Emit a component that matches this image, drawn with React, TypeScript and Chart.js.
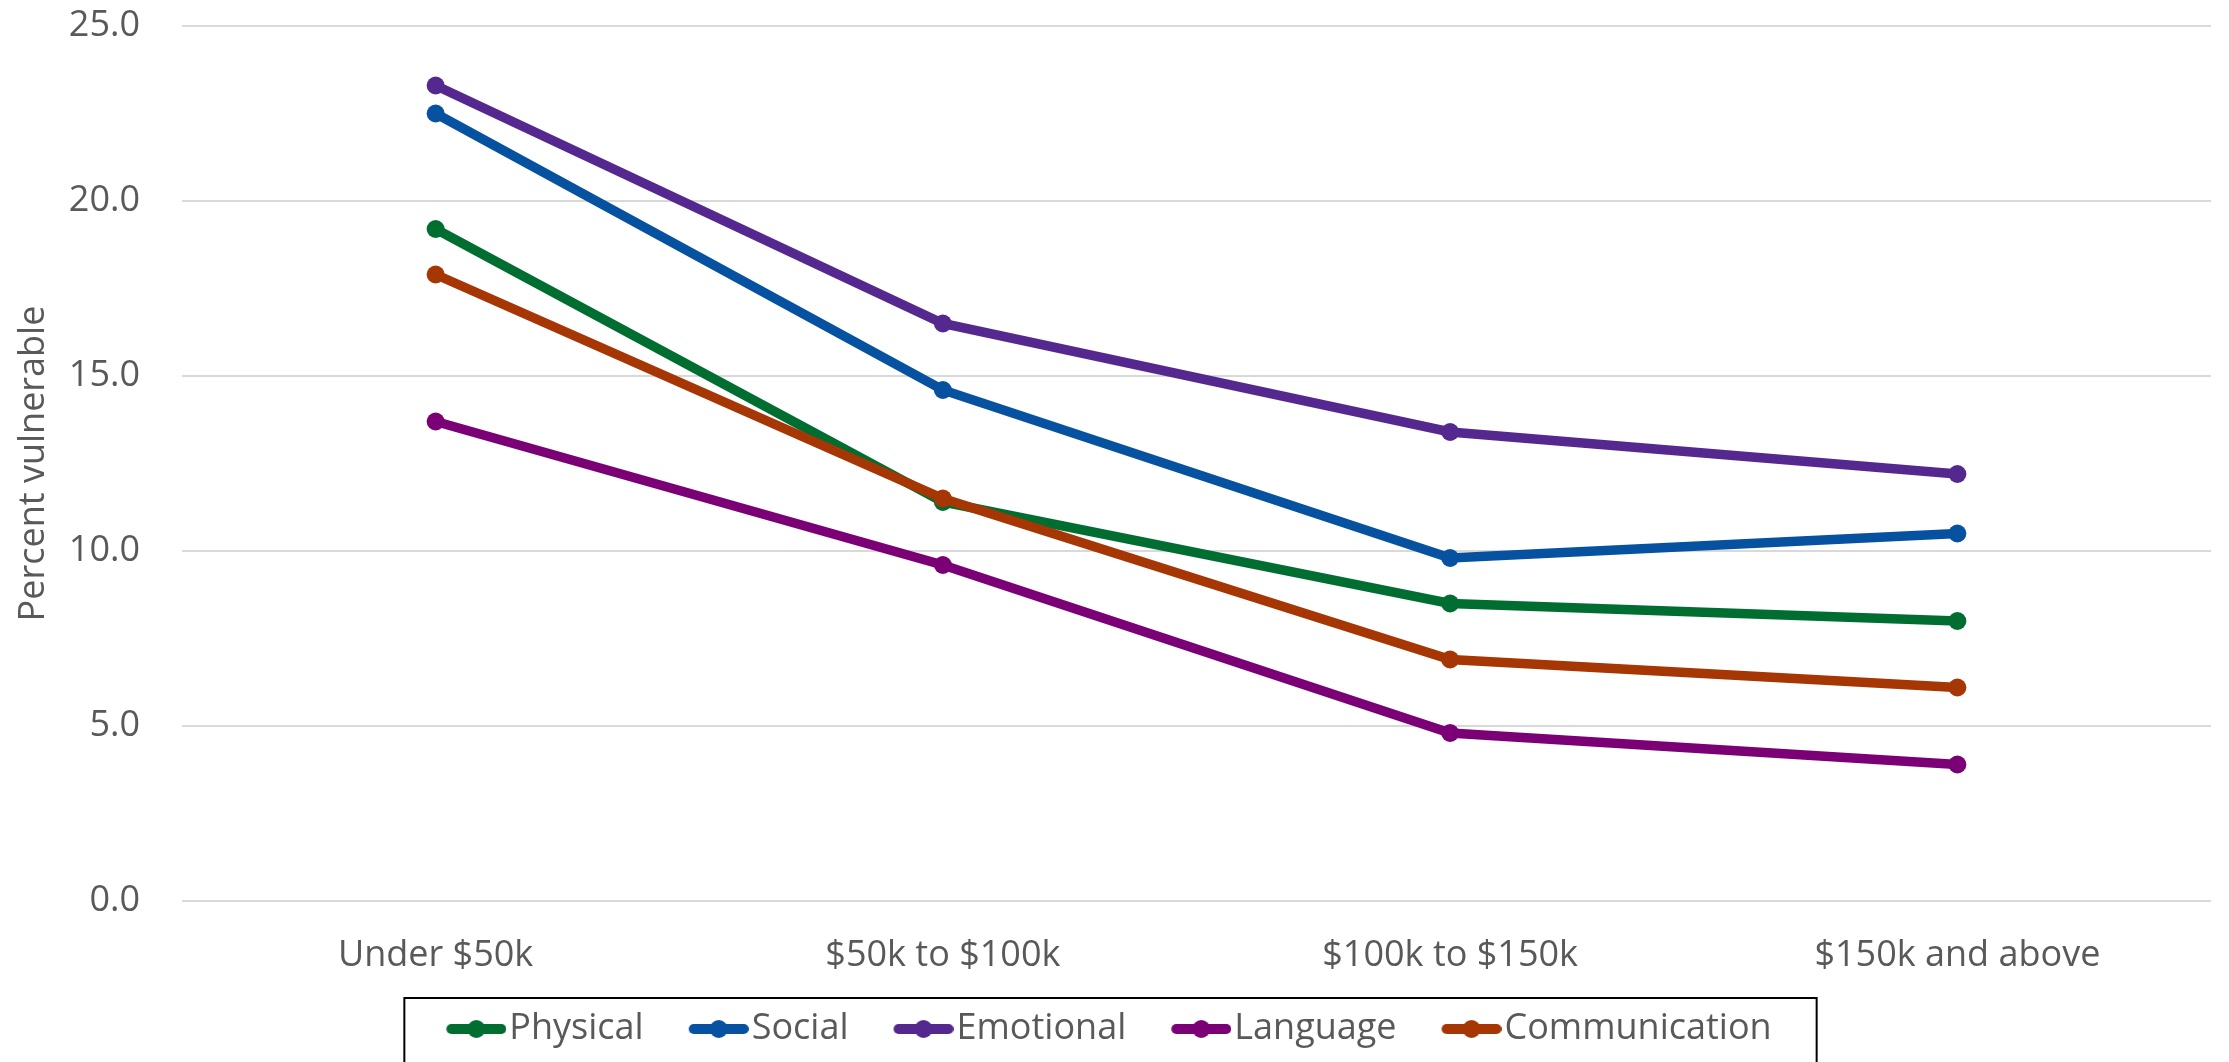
import React, { useEffect, useRef } from "react";
import { Chart, registerables } from "chart.js";

Chart.register(...registerables);

const categories = ["Under $50k", "$50k to $100k", "$100k to $150k", "$150k and above"];
const physical = [19.2, 11.4, 8.5, 8.0];
const social = [22.5, 14.6, 9.8, 10.5];
const emotional = [23.3, 16.5, 13.4, 12.2];
const language = [13.7, 9.6, 4.8, 3.9];
const communication = [17.9, 11.5, 6.9, 6.1];
const seriesNames = ["Physical", "Social", "Emotional", "Language", "Communication"];
const seriesValues = [physical, social, emotional, language, communication];
const seriesColors = ["#006E31", "#0652A0", "#55288F", "#7B0076", "#A63603"];
const yTicks = [0, 5, 10, 15, 20, 25];
const yTitle = "Percent vulnerable";

const FONT = "'Open Sans', 'Noto Sans', sans-serif";
const TEXT = "#595959";
const W = 2229;
const H = 1062;
const LEGEND_SHIFT = -14;

function makeMarker(color: string): HTMLCanvasElement {
  const c = document.createElement("canvas");
  c.width = 110;
  c.height = 22;
  const ctx = c.getContext("2d")!;
  ctx.strokeStyle = color;
  ctx.fillStyle = color;
  ctx.lineWidth = 10;
  ctx.lineCap = "round";
  ctx.beginPath();
  ctx.moveTo(55, 11);
  ctx.lineTo(105, 11);
  ctx.stroke();
  ctx.beginPath();
  ctx.arc(80, 11, 9, 0, Math.PI * 2);
  ctx.fill();
  return c;
}

const legendBox = {
  id: "legendBox",
  afterLayout(chart: any) {
    const lg = chart.legend;
    if (!lg) return;
    lg.left += LEGEND_SHIFT;
    lg.right += LEGEND_SHIFT;
    (lg.legendHitBoxes || []).forEach((h: any) => {
      h.left += LEGEND_SHIFT;
    });
  },
  afterDraw(chart: any) {
    const lg = chart.legend;
    if (!lg || !lg.legendHitBoxes || !lg.legendHitBoxes.length) return;
    const hb = lg.legendHitBoxes;
    const last = hb[hb.length - 1];
    const left = hb[0].left + 35 - 42;
    const right = last.left + last.width + 45;
    const top = lg.top - 3;
    const ctx = chart.ctx;
    ctx.save();
    ctx.strokeStyle = "#000000";
    ctx.lineWidth = 2;
    ctx.strokeRect(left, top, right - left, chart.height + 20 - top);
    ctx.restore();
  },
};

export default function App() {
  const ref = useRef<HTMLCanvasElement | null>(null);

  useEffect(() => {
    document.body.style.margin = "0";
    const markers = seriesColors.map(makeMarker);
    const n = seriesNames.length;
    const chart = new Chart(ref.current!, {
      type: "line",
      data: {
        labels: categories,
        datasets: seriesNames.map((name, i) => ({
          label: name,
          data: seriesValues[i],
          borderColor: seriesColors[i],
          backgroundColor: seriesColors[i],
          borderWidth: 9.5,
          pointRadius: 9,
          pointBorderWidth: 0,
          pointBackgroundColor: seriesColors[i],
          pointBorderColor: seriesColors[i],
          tension: 0,
          fill: false,
          order: n - 1 - i,
        })),
      },
      options: {
        responsive: false,
        animation: false,
        layout: { padding: { top: 26, right: 18, bottom: 5, left: 0 } },
        scales: {
          x: {
            offset: true,
            grid: { display: false, drawTicks: false },
            border: { display: false },
            ticks: {
              color: TEXT,
              font: { family: FONT, size: 36 },
              padding: 33,
              maxRotation: 0,
              autoSkip: false,
            },
            afterFit: (s: any) => {
              s.height = 100;
            },
          },
          y: {
            min: yTicks[0],
            max: yTicks[yTicks.length - 1],
            grid: { color: "#D9D9D9", lineWidth: 2, drawTicks: false },
            border: { display: false },
            ticks: {
              stepSize: yTicks[1] - yTicks[0],
              color: TEXT,
              font: { family: FONT, size: 36 },
              padding: 42,
              callback: (v: any) => Number(v).toFixed(1),
            },
            title: {
              display: true,
              text: yTitle,
              color: TEXT,
              font: { family: FONT, size: 36, weight: "normal" },
              padding: { top: 12, bottom: 0 },
            },
            afterFit: (s: any) => {
              s.width = 182;
              s.paddingTop = 0;
              s.paddingBottom = 0;
            },
          },
        },
        plugins: {
          tooltip: { enabled: false },
          legend: {
            position: "bottom",
            labels: {
              usePointStyle: true,
              pointStyleWidth: 80,
              padding: 10,
              color: TEXT,
              font: { family: FONT, size: 36 },
              generateLabels: () =>
                seriesNames.map((name, i) => ({
                  text: name,
                  fillStyle: seriesColors[i],
                  strokeStyle: seriesColors[i],
                  lineWidth: 0,
                  pointStyle: markers[i],
                  datasetIndex: i,
                  hidden: false,
                  fontColor: TEXT,
                })),
            },
          },
        },
      } as any,
      plugins: [legendBox],
    });
    return () => chart.destroy();
  }, []);

  return (
    <div style={{ width: W, height: H, position: "relative", background: "#fff" }}>
      <canvas ref={ref} width={W} height={H} style={{ display: "block" }} />
    </div>
  );
}
